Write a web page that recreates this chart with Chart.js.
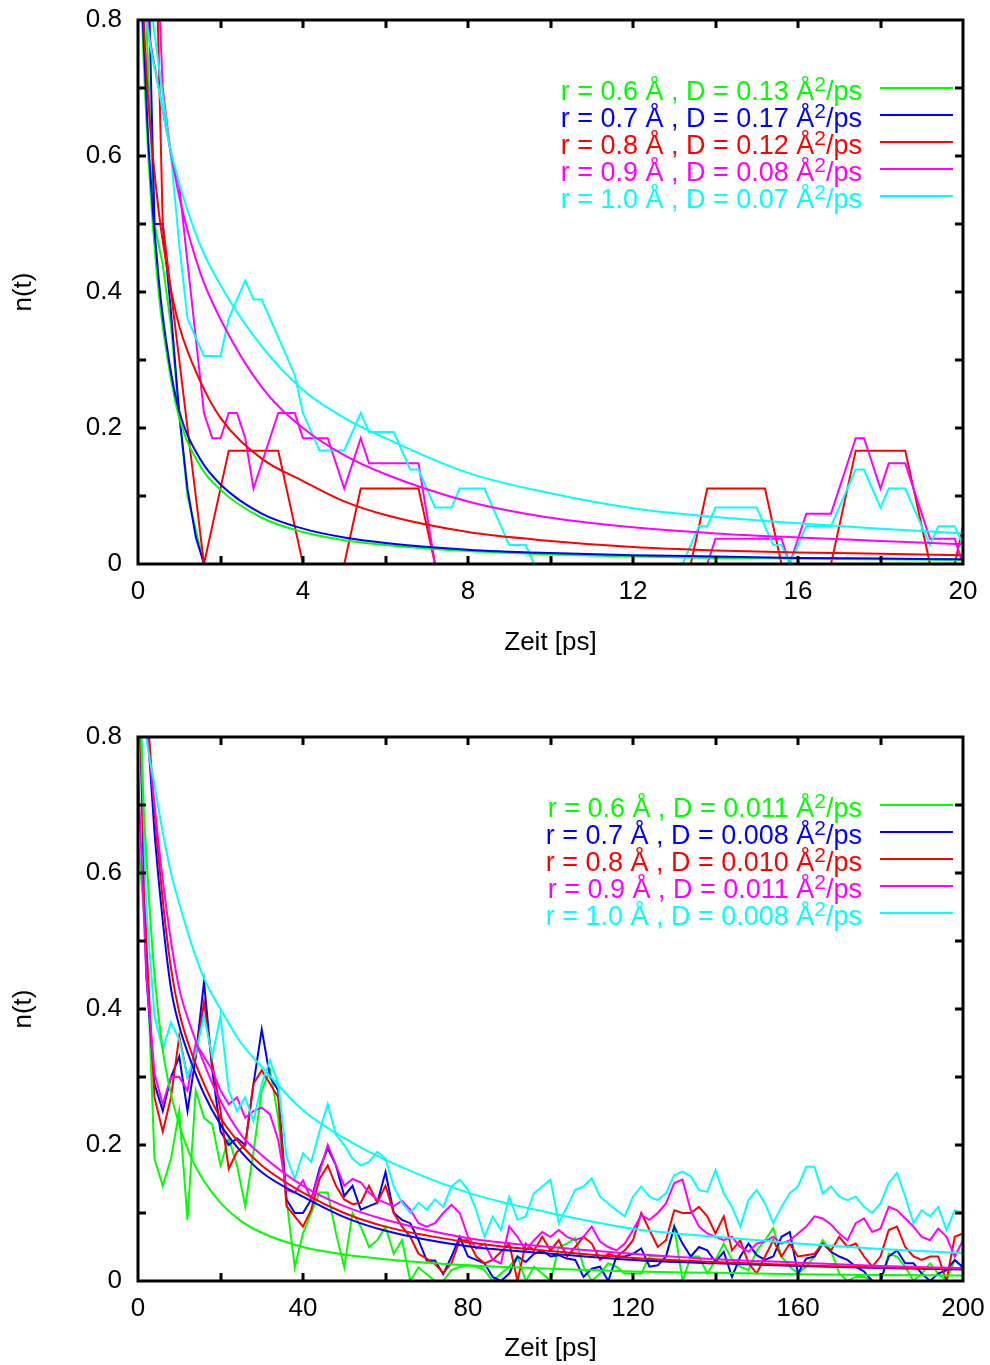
<!DOCTYPE html>
<html><head><meta charset="utf-8">
<script src="https://cdn.jsdelivr.net/npm/chart.js@4.4.1/dist/chart.umd.min.js"></script>
<style>
html,body{margin:0;padding:0;background:#fff;width:990px;height:1365px;overflow:hidden;}
.w{position:absolute;left:0;width:990px;}
</style></head><body>
<div class="w" style="top:0;height:717px"><canvas id="c1" width="990" height="717"></canvas></div>
<div class="w" style="top:717px;height:648px"><canvas id="c2" width="990" height="648"></canvas></div>
<script>
// ---------------- DATA ----------------
const rVals = ['0.6', '0.7', '0.8', '0.9', '1.0'];
const dTop = ['0.13', '0.17', '0.12', '0.08', '0.07'];
const dBottom = ['0.011', '0.008', '0.010', '0.011', '0.008'];
const colors = ['#00ff00', '#0000ff', '#ff0000', '#ff00ff', '#00ffff'];

const yTicks = [0, 0.2, 0.4, 0.6, 0.8];
const yTickLabels = ['0', '0.2', '0.4', '0.6', '0.8'];
const yMarks = [0.1, 0.2, 0.3, 0.4, 0.5, 0.6, 0.7];
const topXTicks = [0, 4, 8, 12, 16, 20];
const topXTickLabels = ['0', '4', '8', '12', '16', '20'];
const topXMarks = [2, 4, 6, 8, 10, 12, 14, 16, 18];
const botXTicks = [0, 40, 80, 120, 160, 200];
const botXTickLabels = ['0', '40', '80', '120', '160', '200'];
const botXMarks = [20, 40, 60, 80, 100, 120, 140, 160, 180];

// ---- top panel: measured n(t) ----
const topGreenT = [0, 0.2, 0.4, 0.6, 0.8, 1.0, 1.2, 1.4, 1.6, 20];
const topGreenV = [1.0, 0.8, 0.5, 0.44, 0.35, 0.22, 0.1, 0.05, 0, 0];
const topBlueT = [0, 0.2, 0.4, 0.6, 0.8, 1.0, 1.2, 1.4, 1.6, 20];
const topBlueV = [1.0, 1.0, 0.5, 0.5, 0.37, 0.22, 0.11, 0.04, 0, 0];
const topRedT = [0, 0.4, 0.6, 0.8, 1.0, 1.2, 1.4, 1.6, 2.2, 3.4, 4.0, 5.0, 5.4, 6.8, 7.2, 13.4, 13.8, 15.2, 15.6, 16.8, 17.4, 18.6, 19.2, 19.8, 20.0];
const topRedV = [1.0, 1.0, 0.5, 0.4, 0.3, 0.2, 0.1, 0, 0.1667, 0.1667, 0, 0, 0.1111, 0.1111, 0, 0, 0.1111, 0.1111, 0, 0, 0.1667, 0.1667, 0, 0, 0.0556];
const topMagT = [0, 0.4, 0.6, 0.8, 1.0, 1.2, 1.4, 1.6, 1.8, 2.0, 2.2, 2.4, 2.6, 2.8, 3.4, 3.8, 4.0, 4.6, 5.0, 5.4, 5.6, 6.8, 7.2, 13.8, 14.0, 15.6, 15.8, 16.2, 16.8, 17.4, 17.6, 18.0, 18.2, 18.6, 19.2, 19.8, 20.0];
const topMagV = [1.0, 1.0, 0.7, 0.6, 0.556, 0.444, 0.333, 0.222, 0.185, 0.185, 0.222, 0.222, 0.185, 0.111, 0.222, 0.222, 0.185, 0.185, 0.111, 0.185, 0.148, 0.148, 0, 0, 0.037, 0.037, 0, 0.074, 0.074, 0.185, 0.185, 0.111, 0.148, 0.148, 0.037, 0.037, 0];
const topCyanT = [0, 0.4, 0.6, 0.8, 1.0, 1.2, 1.4, 1.6, 2.0, 2.2, 2.6, 2.8, 3.0, 3.8, 4.0, 4.4, 5.0, 5.4, 5.6, 6.2, 6.6, 6.8, 7.2, 7.6, 7.8, 8.4, 9.0, 9.4, 9.6, 13.2, 13.6, 13.8, 14.0, 15.0, 15.4, 15.6, 15.8, 16.2, 16.8, 17.4, 17.6, 18.0, 18.2, 18.6, 19.2, 19.4, 19.8, 20.0];
const topCyanV = [1.0, 0.78, 0.69, 0.6, 0.47, 0.361, 0.333, 0.306, 0.306, 0.361, 0.417, 0.389, 0.389, 0.278, 0.222, 0.167, 0.167, 0.222, 0.194, 0.194, 0.139, 0.139, 0.083, 0.083, 0.111, 0.111, 0.0278, 0.0278, 0, 0, 0.0556, 0.0556, 0.083, 0.083, 0.0278, 0.0278, 0, 0.0556, 0.0556, 0.139, 0.139, 0.083, 0.111, 0.111, 0.0278, 0.0556, 0.0556, 0.0278];

// ---- top panel: fitted curves ----
const topFitT = [0, 0.1, 0.25, 0.5, 0.75, 1, 1.5, 2, 3, 4, 5, 6, 8, 10, 12, 14, 16, 18, 20];
const topFitGreen = [1.0, 0.8, 0.6, 0.4, 0.29, 0.215, 0.145, 0.109, 0.068, 0.047, 0.035, 0.028, 0.019, 0.014, 0.011, 0.009, 0.008, 0.007, 0.006];
const topFitBlue = [1.0, 0.82, 0.62, 0.42, 0.30, 0.225, 0.155, 0.117, 0.074, 0.052, 0.039, 0.031, 0.021, 0.016, 0.013, 0.011, 0.009, 0.008, 0.007];
const topFitRed = [1.0, 0.85, 0.68, 0.52, 0.42, 0.35, 0.27, 0.215, 0.155, 0.122, 0.092, 0.072, 0.047, 0.034, 0.025, 0.02, 0.017, 0.015, 0.013];
const topFitMag = [1.0, 0.88, 0.79, 0.70, 0.62, 0.54, 0.43, 0.36, 0.26, 0.2, 0.16, 0.132, 0.092, 0.068, 0.054, 0.045, 0.039, 0.034, 0.029];
const topFitCyan = [1.0, 0.86, 0.78, 0.70, 0.62, 0.56, 0.47, 0.41, 0.32, 0.256, 0.215, 0.185, 0.134, 0.104, 0.082, 0.069, 0.06, 0.052, 0.045];

// ---- bottom panel: measured n(t) ----
const botT = [0,2,4,6,8,10,12,14,16,18,20,22,24,26,28,30,32,34,36,38,40,42,44,46,48,50,52,54,56,58,60,62,64,66,68,70,72,74,76,78,80,82,84,86,88,90,92,94,96,98,100,102,104,106,108,110,112,114,116,118,120,122,124,126,128,130,132,134,136,138,140,142,144,146,148,150,152,154,156,158,160,162,164,166,168,170,172,174,176,178,180,182,184,186,188,190,192,194,196,198,200];
const botGreen = [0.65,0.5,0.18,0.14,0.18,0.25,0.09,0.28,0.24,0.23,0.17,0.21,0.17,0.11,0.19,0.28,0.31,0.24,0.12,0.02,0.07,0.1,0.13,0.13,0.07,0.02,0.1,0.08,0.05,0.06,0.08,0.04,0.06,0.0,0.02,0.01,0.0,0.0,
  0.016,0.021,0.023,0.021,0.016,0,0.011,0.021,0.036,0,0.021,0.011,0,0.05,0.055,0.063,0.021,0,0.011,0.026,0.021,0.011,0.011,0.011,0.036,0.036,0.036,0.08,0,0.036,0.036,0.011,0.031,0.055,0.031,0.021,0.016,0.045,0.06,0.078,0.036,0.021,0.011,0.021,0.036,0.06,0.045,0.011,0,0.006,0.006,0,0,0.04,0.036,0.021,0,0.011,0.026,0.011,0,0.031,0.02];
const botBlue = [0.95,0.45,0.29,0.25,0.3,0.33,0.25,0.33,0.44,0.31,0.22,0.2,0.21,0.2,0.29,0.37,0.3,0.28,0.12,0.1,0.1,0.12,0.165,0.195,0.17,0.125,0.14,0.105,0.11,0.115,0.16,0.1,0.09,0.085,0.06,0.03,0.03,0.01,0.036,
  0.065,0.036,0.031,0.026,0.006,0,0.011,0.036,0.028,0.04,0.045,0.036,0.038,0.033,0.031,0.006,0.018,0.021,0,0.036,0.036,0.04,0.048,0.021,0.023,0.036,0.08,0.055,0.036,0.05,0.045,0.028,0.043,0.006,0.036,0.055,0.038,0.031,0.036,0.065,0.072,0.011,0.033,0.036,0.055,0.043,0.036,0.031,0.021,0.014,0,0,0.036,0.045,0.026,0.026,0.011,0,0.011,0.016,0.031,0.02];
const botRed = [0.95,0.5,0.27,0.22,0.27,0.36,0.3,0.33,0.41,0.32,0.25,0.165,0.19,0.2,0.29,0.31,0.29,0.27,0.11,0.095,0.08,0.105,0.15,0.17,0.14,0.12,0.113,0.115,0.14,0.115,0.14,0.1,0.08,0.065,0.04,0.033,0.025,0.012,0.026,0.06,
  0.06,0.036,0.026,0.031,0.043,0.055,0,0.055,0.045,0.065,0.045,0.06,0.036,0.05,0.065,0.055,0.031,0.04,0.036,0.045,0.06,0.1,0.075,0.05,0.06,0.104,0.1,0.1,0.109,0.095,0.07,0.095,0.045,0.06,0.026,0.011,0.036,0.06,0.036,0.055,0.036,0.038,0.04,0.055,0.045,0.065,0.05,0.055,0.036,0.021,0.036,0.075,0.08,0.05,0.036,0.031,0.036,0.036,0,0.065,0.07];
const botMag = [0.75,0.45,0.305,0.26,0.3,0.3,0.28,0.35,0.33,0.31,0.28,0.26,0.27,0.24,0.25,0.255,0.245,0.207,0.134,0.13,0.148,0.12,0.16,0.2,0.17,0.14,0.15,0.145,0.13,0.12,0.115,0.11,0.118,0.105,0.085,0.08,0.085,0.1,0.112,0.1,
  0.065,0.048,0.055,0.031,0.026,0.08,0.065,0.045,0.06,0.072,0.065,0.075,0.065,0.06,0.065,0.08,0.058,0.05,0.045,0.055,0.075,0.097,0.09,0.1,0.114,0.144,0.149,0.104,0.08,0.07,0.065,0.06,0.065,0.05,0.043,0.055,0.058,0.065,0.055,0.06,0.07,0.08,0.095,0.092,0.083,0.07,0.06,0.085,0.092,0.072,0.077,0.109,0.104,0.092,0.08,0.065,0.06,0.077,0.065,0.036,0.06];
const botCyan = [1.0,0.55,0.39,0.34,0.38,0.355,0.3,0.335,0.39,0.33,0.39,0.28,0.25,0.27,0.235,0.29,0.325,0.29,0.183,0.15,0.188,0.175,0.22,0.26,0.215,0.2,0.18,0.17,0.175,0.19,0.18,0.139,0.115,0.1,0.115,0.105,0.12,
  0.109,0.139,0.149,0.134,0.104,0.065,0.095,0.075,0.124,0.09,0.095,0.129,0.139,0.149,0.085,0.109,0.134,0.139,0.151,0.124,0.114,0.104,0.095,0.124,0.139,0.124,0.119,0.129,0.156,0.161,0.154,0.134,0.131,0.163,0.129,0.109,0.08,0.119,0.134,0.114,0.085,0.109,0.129,0.139,0.168,0.168,0.129,0.139,0.124,0.119,0.124,0.109,0.1,0.114,0.144,0.159,0.124,0.085,0.104,0.095,0.109,0.075,0.104,0.1];

// ---- bottom panel: fitted curves ----
const botFitT = [0, 1, 2, 4, 6, 8, 10, 13, 16, 20, 25, 30, 40, 50, 60, 80, 100, 120, 140, 160, 180, 200];
const botFitGreen = [1.0, 0.75, 0.63, 0.45, 0.34, 0.275, 0.23, 0.18, 0.147, 0.115, 0.088, 0.071, 0.05, 0.039, 0.032, 0.023, 0.018, 0.014, 0.012, 0.01, 0.009, 0.008];
const botFitBlue = [1.0, 0.92, 0.84, 0.66, 0.53, 0.43, 0.375, 0.32, 0.275, 0.23, 0.19, 0.16, 0.124, 0.094, 0.074, 0.051, 0.04, 0.031, 0.026, 0.022, 0.019, 0.017];
const botFitRed = [1.0, 0.93, 0.86, 0.69, 0.56, 0.46, 0.395, 0.335, 0.29, 0.24, 0.2, 0.17, 0.13, 0.1, 0.08, 0.057, 0.044, 0.034, 0.028, 0.023, 0.02, 0.018];
const botFitMag = [1.0, 0.9, 0.82, 0.7, 0.59, 0.5, 0.43, 0.37, 0.32, 0.265, 0.215, 0.185, 0.14, 0.11, 0.09, 0.063, 0.05, 0.04, 0.032, 0.027, 0.022, 0.019];
const botFitCyan = [1.0, 0.86, 0.8, 0.73, 0.66, 0.6, 0.555, 0.495, 0.445, 0.4, 0.35, 0.315, 0.251, 0.21, 0.178, 0.13, 0.1, 0.077, 0.065, 0.055, 0.047, 0.041];

// ---------------- RENDERING ----------------
const FONT = '"Liberation Sans", Arial, Helvetica, sans-serif';
Chart.defaults.font.family = FONT;
Chart.defaults.color = '#000';

function pts(xs, ys) { return xs.map((x, i) => ({ x: x, y: ys[i] })); }
function ds(xs, ys, color, order, smooth) {
  return {
    data: pts(xs, ys), borderColor: color, borderWidth: 2, pointRadius: 0,
    fill: false, order: order, tension: smooth ? 0.4 : 0,
    cubicInterpolationMode: smooth ? 'monotone' : 'default'
  };
}

// plot-area box (gnuplot-style frame position)
const AREA = { left: 138, top: 20, right: 963, bottom: 564 };

const framePlugin = {
  id: 'gpframe',
  afterDraw(chart, args, o) {
    const { ctx, chartArea: a } = chart;
    const x = chart.scales.x, y = chart.scales.y;
    ctx.save();
    ctx.strokeStyle = '#000';
    ctx.lineWidth = 3;
    ctx.lineCap = 'butt';
    ctx.beginPath();
    o.xMarks.forEach(v => {
      const px = Math.round(x.getPixelForValue(v));
      ctx.moveTo(px, a.bottom); ctx.lineTo(px, a.bottom - 8);
      ctx.moveTo(px, a.top); ctx.lineTo(px, a.top + 8);
    });
    o.yMarks.forEach(v => {
      const py = Math.round(y.getPixelForValue(v));
      ctx.moveTo(a.left, py); ctx.lineTo(a.left + 8, py);
      ctx.moveTo(a.right, py); ctx.lineTo(a.right - 8, py);
    });
    ctx.stroke();
    ctx.strokeRect(a.left, a.top, a.right - a.left, a.bottom - a.top);
    // key
    const textRight = a.right - 101;
    for (let i = 0; i < o.d.length; i++) {
      const ly = a.top + 68 + i * 27;
      ctx.strokeStyle = colors[i];
      ctx.lineWidth = 2;
      ctx.beginPath(); ctx.moveTo(a.right - 83, ly); ctx.lineTo(a.right - 10, ly); ctx.stroke();
      const main = 'r = ' + rVals[i] + ' \u00C5 , D = ' + o.d[i] + ' \u00C5';
      const sup = '2', tail = '/ps';
      const base = ly + 12;
      ctx.fillStyle = colors[i];
      ctx.textBaseline = 'alphabetic';
      ctx.textAlign = 'left';
      ctx.font = '27px ' + FONT;
      const w1 = ctx.measureText(main).width, w3 = ctx.measureText(tail).width;
      ctx.font = '21px ' + FONT;
      const w2 = ctx.measureText(sup).width;
      const x0 = textRight - (w1 + w2 + w3);
      ctx.font = '27px ' + FONT;
      ctx.fillText(main, x0, base);
      ctx.fillText(tail, x0 + w1 + w2, base);
      ctx.font = '21px ' + FONT;
      ctx.fillText(sup, x0 + w1, base - 9);
    }
    ctx.restore();
  }
};

function zeroPad(s) { s.paddingTop = 0; s.paddingBottom = 0; s.paddingLeft = 0; s.paddingRight = 0; }

function makeChart(id, cfg) {
  const dsets = [];
  let k = 0;
  const N = 10;
  cfg.data.forEach((s, i) => { dsets.push(ds(s[0], s[1], colors[i], N - k, false)); k++; });
  cfg.fits.forEach((s, i) => { dsets.push(ds(cfg.fitT, s, colors[i], N - k, true)); k++; });
  const H = cfg.height;
  return new Chart(document.getElementById(id), {
    type: 'line',
    data: { datasets: dsets },
    options: {
      responsive: false, animation: false, events: [],
      layout: { padding: { top: AREA.top, right: 990 - AREA.right, left: 0, bottom: 0 } },
      plugins: { legend: { display: false }, tooltip: { enabled: false }, gpframe: { xMarks: cfg.xMarks, yMarks: yMarks, d: cfg.d } },
      scales: {
        x: {
          type: 'linear', min: cfg.xTicks[0], max: cfg.xTicks[cfg.xTicks.length - 1],
          afterBuildTicks: s => { s.ticks = cfg.xTicks.map(v => ({ value: v })); },
          afterFit: s => { s.height = H - AREA.bottom; zeroPad(s); },
          grid: { display: false, drawTicks: false }, border: { display: false },
          ticks: { autoSkip: false, maxRotation: 0, padding: 15, color: '#000', font: { size: 26, lineHeight: 1 }, callback: (v, i) => cfg.xLabels[i] },
          title: { display: true, text: 'Zeit [ps]', color: '#000', font: { size: 26, lineHeight: 1 }, padding: { top: 0, bottom: cfg.xTitlePad } }
        },
        y: {
          type: 'linear', min: 0, max: 0.8,
          afterBuildTicks: s => { s.ticks = yTicks.map(v => ({ value: v })); },
          afterFit: s => { s.width = AREA.left; zeroPad(s); },
          grid: { display: false, drawTicks: false }, border: { display: false },
          ticks: { autoSkip: false, padding: 16, color: '#000', font: { size: 26, lineHeight: 1 }, callback: (v, i) => yTickLabels[i] },
          title: { display: true, text: 'n(t)', color: '#000', font: { size: 26, lineHeight: 1 }, padding: { top: 11, bottom: 0 } }
        }
      }
    },
    plugins: [framePlugin]
  });
}

makeChart('c1', {
  data: [[topGreenT, topGreenV], [topBlueT, topBlueV], [topRedT, topRedV], [topMagT, topMagV], [topCyanT, topCyanV]],
  fitT: topFitT,
  fits: [topFitGreen, topFitBlue, topFitRed, topFitMag, topFitCyan],
  xTicks: topXTicks, xLabels: topXTickLabels, xMarks: topXMarks,
  height: 717, xTitlePad: 61, d: dTop
});
makeChart('c2', {
  data: [[botT, botGreen], [botT, botBlue], [botT, botRed], [botT, botMag], [botT, botCyan]],
  fitT: botFitT,
  fits: [botFitGreen, botFitBlue, botFitRed, botFitMag, botFitCyan],
  xTicks: botXTicks, xLabels: botXTickLabels, xMarks: botXMarks,
  height: 648, xTitlePad: 3, d: dBottom
});
</script>
</body></html>
